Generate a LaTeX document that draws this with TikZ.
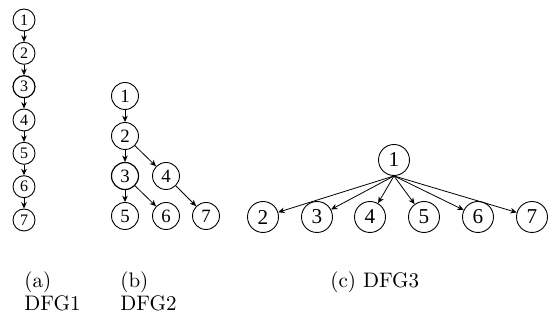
\documentclass[tikz,border=0pt]{standalone}
\usepackage{fontspec}
\newfontfamily\digitfont{Liberation Serif}
\usetikzlibrary{arrows.meta}
\newcommand\dsz[1]{\fontsize{#1}{#1}\digitfont}
\tikzset{
  vtx/.style={draw, circle, inner sep=0pt, line width=0.45pt},
  vsmall/.style={vtx, minimum size=11pt, font=\dsz{8}},
  vmid/.style={vtx, minimum size=13.5pt, font=\dsz{9.4}},
  vbig/.style={vtx, minimum size=15.5pt, font=\dsz{10.6}},
  heavy/.style={line width=0.6pt},
  edge/.style={-{Stealth[length=3.2pt,width=2.8pt]}, line width=0.4pt},
  caption/.style={anchor=base west, inner sep=0pt, font=\fontsize{10.5}{12}\selectfont}
}
\begin{document}
\begin{tikzpicture}[x=0.5pt, y=-0.5pt]
\useasboundingbox (0,0) rectangle (558,320);

% DFG1: a chain
\foreach \i/\y in {1/20, 2/53.3, 4/120, 5/153.3, 6/186.7, 7/220}
  \node[vsmall] (a\i) at (24,\y) {\i};
\node[vsmall, heavy] (a3) at (24,86.7) {3};
\foreach \i/\j in {1/2, 2/3, 3/4, 4/5, 5/6, 6/7}
  \draw[edge] (a\i) -- (a\j);

% DFG2: a small tree
\node[vmid] (b1) at (125,96) {1};
\node[vmid] (b2) at (125,136) {2};
\node[vmid, heavy] (b3) at (125,176) {3};
\node[vmid] (b4) at (166,176) {4};
\node[vmid] (b5) at (125,216) {5};
\node[vmid] (b6) at (166,216) {6};
\node[vmid] (b7) at (206,216) {7};
\foreach \i/\j in {1/2, 2/3, 2/4, 3/5, 3/6, 4/7}
  \draw[edge] (b\i) -- (b\j);

% DFG3: one node fanning out to six
\node[vbig] (c1) at (394,160) {1};
\foreach \i/\x in {2/263, 3/317, 4/370, 5/424, 6/478, 7/532}
  \node[vbig] (c\i) at (\x,217) {\i};
\foreach \i in {2,...,7}
  \draw[edge] (c1.south) -- (c\i);

% captions
\node[caption] (capa) at (24,288) {(a)};
\node[caption] (capa2) at (24,311) {DFG1};
\node[caption] (capb) at (120,288) {(b)};
\node[caption] (capb2) at (120,311) {DFG2};
\node[caption] (capc) at (330,288) {(c) DFG3};
\end{tikzpicture}
\end{document}
